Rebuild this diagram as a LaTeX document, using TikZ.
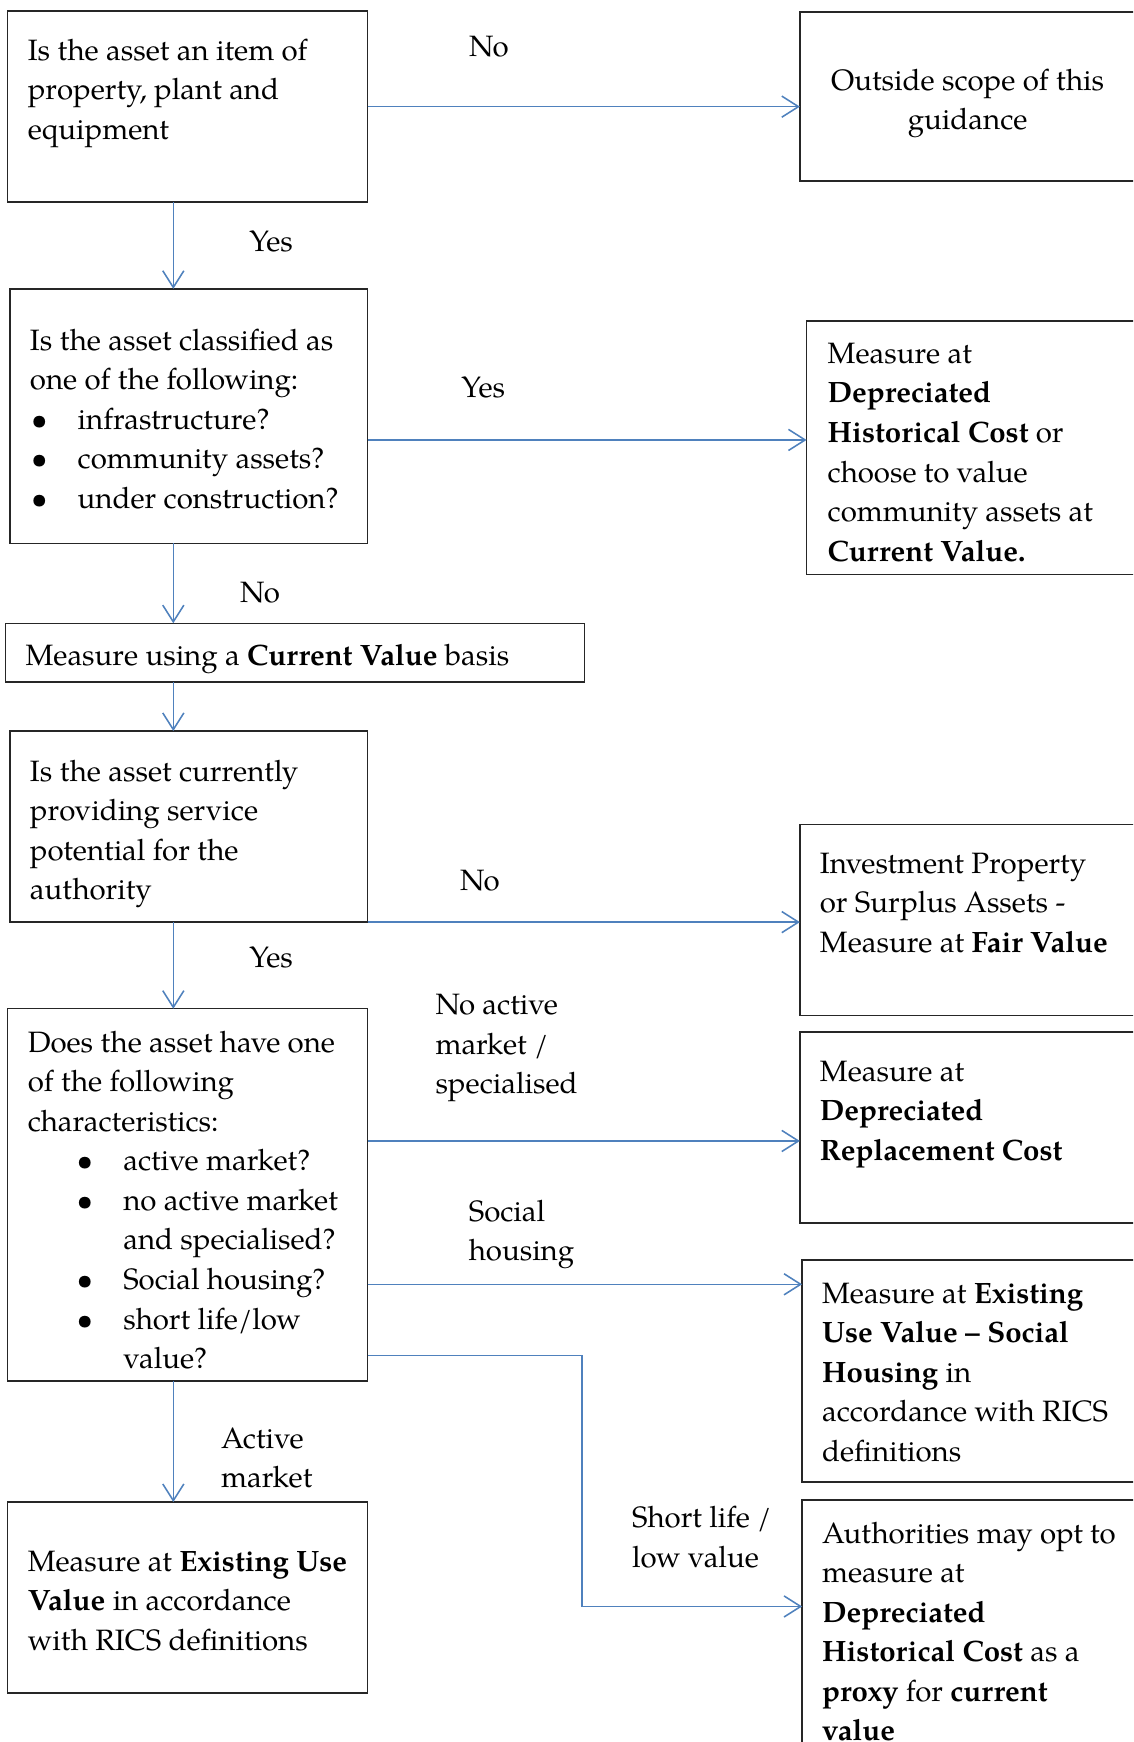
\documentclass[tikz,border=0pt]{standalone}
\usepackage{fontspec}
\setmainfont{TeX Gyre Pagella}
\usetikzlibrary{arrows.meta}
\definecolor{arrowblue}{RGB}{79,129,189}
\definecolor{boxline}{RGB}{38,38,38}
\begin{document}
\begin{tikzpicture}[x=1pt,y=1pt,
  box/.style={draw=boxline, line width=1.3pt, rectangle, inner sep=0pt, outer sep=0pt},
  txt/.style={inner sep=0pt, outer sep=0pt, align=left, anchor=north west,
    font=\fontsize{26.5}{35.6}\selectfont, execute at begin node=\strut},
  ml/.style={txt, yshift=-10pt},
  sl/.style={txt, yshift=-2pt},
  cml/.style={ml, align=center, anchor=north},
  csl/.style={sl, align=center, anchor=north},
  arr/.style={draw=arrowblue, line width=1.4pt,
    -{Straight Barb[length=15pt,width=19pt,line width=1.4pt]}}]
\useasboundingbox (0,0) rectangle (1020,-1568);
\clip (0,0) rectangle (1020,-1568);

% boxes
\node[box, minimum width=324pt, minimum height=172pt] (q1) at (169,-96) {};
\node[box, minimum width=320pt, minimum height=152pt] (out) at (880,-87) {};
\node[box, minimum width=322pt, minimum height=229pt] (q2) at (170,-374.5) {};
\node[box, minimum width=314pt, minimum height=228pt] (dhc) at (883,-403) {};
\node[box, minimum width=521pt, minimum height=53pt] (cv) at (265.5,-587.5) {};
\node[box, minimum width=322pt, minimum height=172pt] (q3) at (170,-744) {};
\node[box, minimum width=320pt, minimum height=172pt] (inv) at (880,-828) {};
\node[box, minimum width=324pt, minimum height=335pt] (q4) at (169,-1075.5) {};
\node[box, minimum width=320pt, minimum height=172pt] (drc) at (880,-1015) {};
\node[box, minimum width=318pt, minimum height=200pt] (euvsh) at (881,-1234) {};
\node[box, minimum width=318pt, minimum height=250pt] (dhc2) at (881,-1475) {};
\node[box, minimum width=324pt, minimum height=172pt] (euv) at (169,-1438) {};

% texts in boxes
\node[ml] (t1) at (25,-24.8) {Is the asset an item of\\property, plant and\\equipment};
\node[cml] (tout) at (871,-51.8) {Outside scope of this\\guidance};
\node[ml] (t2) at (27,-285.8) {Is the asset classified as\\one of the following:\\
  \makebox[43pt][l]{\hspace{1pt}\textbullet}infrastructure?\\
  \makebox[43pt][l]{\hspace{1pt}\textbullet}community assets?\\
  \makebox[43pt][l]{\hspace{1pt}\textbullet}under construction?};
\node[ml] (tdhc) at (745,-298.8) {Measure at\\\textbf{Depreciated}\\\textbf{Historical Cost} or\\choose to value\\community assets at\\\textbf{Current Value.}};
\node[sl] (tcv) at (23,-571.8) {Measure using a \textbf{Current Value} basis};
\node[ml] (t3) at (27,-673.8) {Is the asset currently\\providing service\\potential for the\\authority};
\node[ml] (tinv) at (738,-757.8) {Investment Property\\or Surplus Assets -\\Measure at \textbf{Fair Value}};
\node[ml] (t4) at (25,-917.8) {Does the asset have one\\of the following\\characteristics:\\
  \makebox[86pt][l]{\hspace{44pt}\textbullet}active market?\\
  \makebox[86pt][l]{\hspace{44pt}\textbullet}no active market\\
  \hspace*{86pt}and specialised?\\
  \makebox[86pt][l]{\hspace{44pt}\textbullet}Social housing?\\
  \makebox[86pt][l]{\hspace{44pt}\textbullet}short life/low\\
  \hspace*{86pt}value?};
\node[ml] (tdrc) at (738,-944.8) {Measure at\\\textbf{Depreciated}\\\textbf{Replacement Cost}};
\node[ml] (teuvsh) at (740,-1144.8) {Measure at \textbf{Existing}\\\textbf{Use Value -- Social}\\\textbf{Housing} in\\accordance with RICS\\definitions};
\node[ml] (tdhc2) at (740,-1359.8) {Authorities may opt to\\measure at\\\textbf{Depreciated}\\\textbf{Historical Cost} as a\\\textbf{proxy} for \textbf{current}\\\textbf{value}};
\node[ml] (teuv) at (25,-1385.8) {Measure at \textbf{Existing Use}\\\textbf{Value} in accordance\\with RICS definitions};

% labels
\node[csl] (l1) at (440,-23.8) {No};
\node[csl] (l2) at (244,-199.8) {Yes};
\node[csl] (l3) at (435,-330.8) {Yes};
\node[csl] (l4) at (234,-515.8) {No};
\node[csl] (l5) at (432,-774.8) {No};
\node[csl] (l6) at (244,-843.8) {Yes};
\node[ml] (l7) at (392,-884.8) {No active\\market /\\specialised};
\node[ml] (l8) at (422,-1069.8) {Social\\housing};
\node[ml] (l9) at (569,-1345.8) {Short life /\\low value};
\node[ml] (l10) at (199,-1274.8) {Active\\market};

% connectors
\coordinate (col) at (156,0);
\coordinate (kx) at (524,0);
\draw[arr] (q1.east) -- (q1.east -| out.west);
\draw[arr] (q1.south -| col) -- (q2.north -| col);
\coordinate (a2) at ([yshift=-21.5pt]q2.east);
\draw[arr] (a2) -- (a2 -| dhc.west);
\draw[arr] (q2.south -| col) -- (cv.north -| col);
\draw[arr] (cv.south -| col) -- (q3.north -| col);
\draw[arr] (q3.south east) -- (q3.south east -| inv.west);
\draw[arr] (q3.south -| col) -- (q4.north -| col);
\coordinate (a8) at ([yshift=-119pt]q4.north east);
\draw[arr] (a8) -- (a8 -| drc.west);
\coordinate (a9) at ([yshift=-248pt]q4.north east);
\draw[arr] (a9) -- (a9 -| euvsh.west);
\coordinate (a10) at ([yshift=-312pt]q4.north east);
\coordinate (e10) at ([yshift=-96pt]dhc2.north west);
\draw[arr] (a10) -- (a10 -| kx) -- (kx |- e10) -- (e10);
\draw[arr] (q4.south -| col) -- (euv.north -| col);
\end{tikzpicture}
\end{document}
